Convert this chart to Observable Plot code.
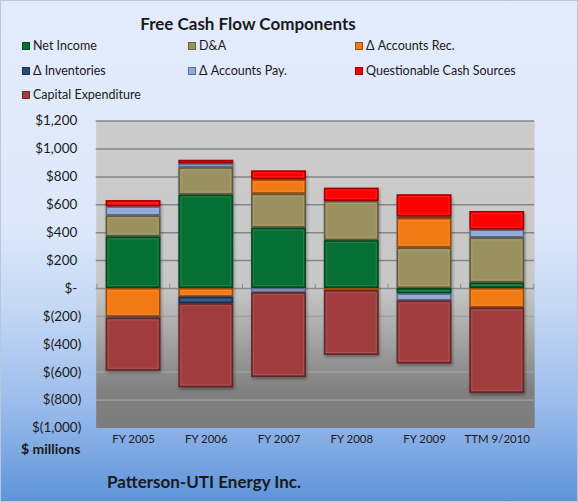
<!DOCTYPE html>
<html>
<head>
<meta charset="utf-8">
<script src="https://cdn.jsdelivr.net/npm/d3@7"></script>
<script src="https://cdn.jsdelivr.net/npm/@observablehq/plot@0.6"></script>
<style>
  html, body { margin: 0; padding: 0; }
  #chart {
    position: relative; width: 578px; height: 502px; box-sizing: border-box;
    border: 1px solid #b9c7dd;
    background: linear-gradient(to bottom, #e3ecfc 0%, #dde8fa 45%, #c3d7f4 62%, #9dbdec 80%, #5f94da 100%);
    font-family: Lato, "Open Sans", sans-serif; color: #1a1a1a; overflow: hidden;
  }
  #chart svg { position: absolute; left: 0; top: 0; }
  .title { position: absolute; left: 0; width: 494px; top: 12px; text-align: center; font-weight: bold; font-size: 17px; }
  .leg { position: absolute; font-size: 12.5px; display: flex; align-items: center; white-space: nowrap; }
  .sw { width: 8px; height: 8px; margin-right: 3px; box-sizing: border-box; border: 1px solid rgba(0,0,0,0.35); }
  .units { position: absolute; left: 20px; top: 439px; font-weight: bold; font-size: 14px; }
  .footer { position: absolute; left: 106px; top: 470px; font-weight: bold; font-size: 17px; }
  .bars { filter: drop-shadow(1px 2px 1.5px rgba(0,0,0,0.35)); }
</style>
</head>
<body>
<div id="chart"></div>
<script>
const categories = ["FY 2005", "FY 2006", "FY 2007", "FY 2008", "FY 2009", "TTM 9/2010"];
const seriesNames = ["Net Income", "D&A", "Δ Accounts Rec.", "Δ Inventories", "Δ Accounts Pay.", "Questionable Cash Sources", "Capital Expenditure"];
const seriesColors = ["#067034", "#9b9160", "#f27a12", "#274a7c", "#90a9d8", "#ff0000", "#a03c3c"];

const netIncome    = [370, 670, 433, 343, -39, 40];
const depreciation = [150, 195, 243, 281, 290, 322];
const accountsRec  = [-205, -62, 103, -15, 212, -140];
const inventories  = [-7, -47, 0, 0, 10, 0];
const accountsPay  = [65, 28, -30, 0, -50, 57];
const questionable = [45, 26, 64, 95, 160, 133];
const capex        = [-381, -603, -608, -465, -452, -612];

const yTicks = [-1000, -800, -600, -400, -200, 0, 200, 400, 600, 800, 1000, 1200];

const seriesValues = [netIncome, depreciation, accountsRec, inventories, accountsPay, questionable, capex];
const data = [];
seriesNames.forEach((s, i) => {
  categories.forEach((c, j) => {
    const v = seriesValues[i][j];
    if (v !== 0) data.push({series: s, category: c, value: v});
  });
});

const fmtNum = d3.format(",");
const fmt = v => v === 0 ? "$-" : v < 0 ? `$(${fmtNum(-v)})` : `$${fmtNum(v)}`;

const chart = document.getElementById("chart");

// HTML title & legend
const title = document.createElement("div");
title.className = "title";
title.textContent = "Free Cash Flow Components";
chart.appendChild(title);

const legCols = [21, 187, 354];
const legRows = [37, 62, 86];
seriesNames.forEach((s, i) => {
  const el = document.createElement("div");
  el.className = "leg";
  el.style.left = legCols[i % 3] + "px";
  el.style.top = legRows[Math.floor(i / 3)] + "px";
  const sw = document.createElement("span");
  sw.className = "sw";
  sw.style.background = seriesColors[i];
  el.appendChild(sw);
  el.appendChild(document.createTextNode(s));
  chart.appendChild(el);
});

const marginLeft = 95, marginRight = 43, width = 578;
const step = (width - marginLeft - marginRight) / categories.length;

const svg = Plot.plot({
  width: 578,
  height: 502,
  marginTop: 120,
  marginBottom: 74,
  marginLeft,
  marginRight,
  style: {background: "transparent", fontFamily: "Lato, 'Open Sans', sans-serif", color: "#1a1a1a", overflow: "visible"},
  x: {domain: categories, paddingInner: 0.25, paddingOuter: 0.125, axis: null},
  y: {domain: [-1000, 1200], axis: null},
  color: {domain: seriesNames, range: seriesColors},
  marks: [
    Plot.frame({fill: "#cbcbcb", className: "plotbg"}),
    Plot.ruleY(yTicks.filter(d => d > 0), {stroke: "#858585", strokeWidth: 1.5}),
    Plot.ruleY(yTicks.filter(d => d < 0 && d > -1000), {stroke: "#a2a2a2", strokeWidth: 1.2}),
    Plot.ruleY([0], {stroke: "#8a8a8a", strokeWidth: 1.5}),
    Plot.ruleX(categories, {x: d => d, y1: 0, y2: 30, dx: -step / 2, stroke: "#8a8a8a"}),
    Plot.ruleX(categories.slice(-1), {x: d => d, y1: 0, y2: 30, dx: step / 2, stroke: "#8a8a8a"}),
    Plot.barY(data, {x: "category", y: "value", fill: "series", className: "bars"}),
    Plot.barY(data, {x: "category", y: "value", fill: "none", stroke: "#000", strokeOpacity: 0.38, strokeWidth: 1.5, inset: 0.75}),
    Plot.barY(data, {x: "category", y: "value", fill: "none", stroke: "#fff", strokeOpacity: 0.12, strokeWidth: 1, inset: 2.5}),
    Plot.text(yTicks.filter(d => d >= 0), {y: d => d, text: fmt, frameAnchor: "left", textAnchor: "end", dx: -19, fontSize: 13.5}),
    Plot.text(yTicks.filter(d => d < 0), {y: d => d, text: fmt, frameAnchor: "left", textAnchor: "end", dx: -15, fontSize: 13.5}),
    Plot.text(categories, {x: d => d, text: d => d, frameAnchor: "bottom", lineAnchor: "top", dy: 7, fontSize: 11.5})
  ]
});

// gradient for the plot area
const s = d3.select(svg);
const defs = s.insert("defs", ":first-child");
const g = defs.append("linearGradient").attr("id", "plotBg").attr("x1", 0).attr("y1", 0).attr("x2", 0).attr("y2", 1);
g.append("stop").attr("offset", "0%").attr("stop-color", "#cccccc");
g.append("stop").attr("offset", "54%").attr("stop-color", "#c8c8c8");
g.append("stop").attr("offset", "88%").attr("stop-color", "#808080");
g.append("stop").attr("offset", "100%").attr("stop-color", "#7d7d7d");
s.selectAll(".plotbg, .plotbg rect").filter(function() { return this.tagName === "rect"; }).attr("fill", "url(#plotBg)");

chart.appendChild(svg);

const units = document.createElement("div");
units.className = "units";
units.textContent = "$ millions";
chart.appendChild(units);

const footer = document.createElement("div");
footer.className = "footer";
footer.textContent = "Patterson-UTI Energy Inc.";
chart.appendChild(footer);
</script>
</body>
</html>
